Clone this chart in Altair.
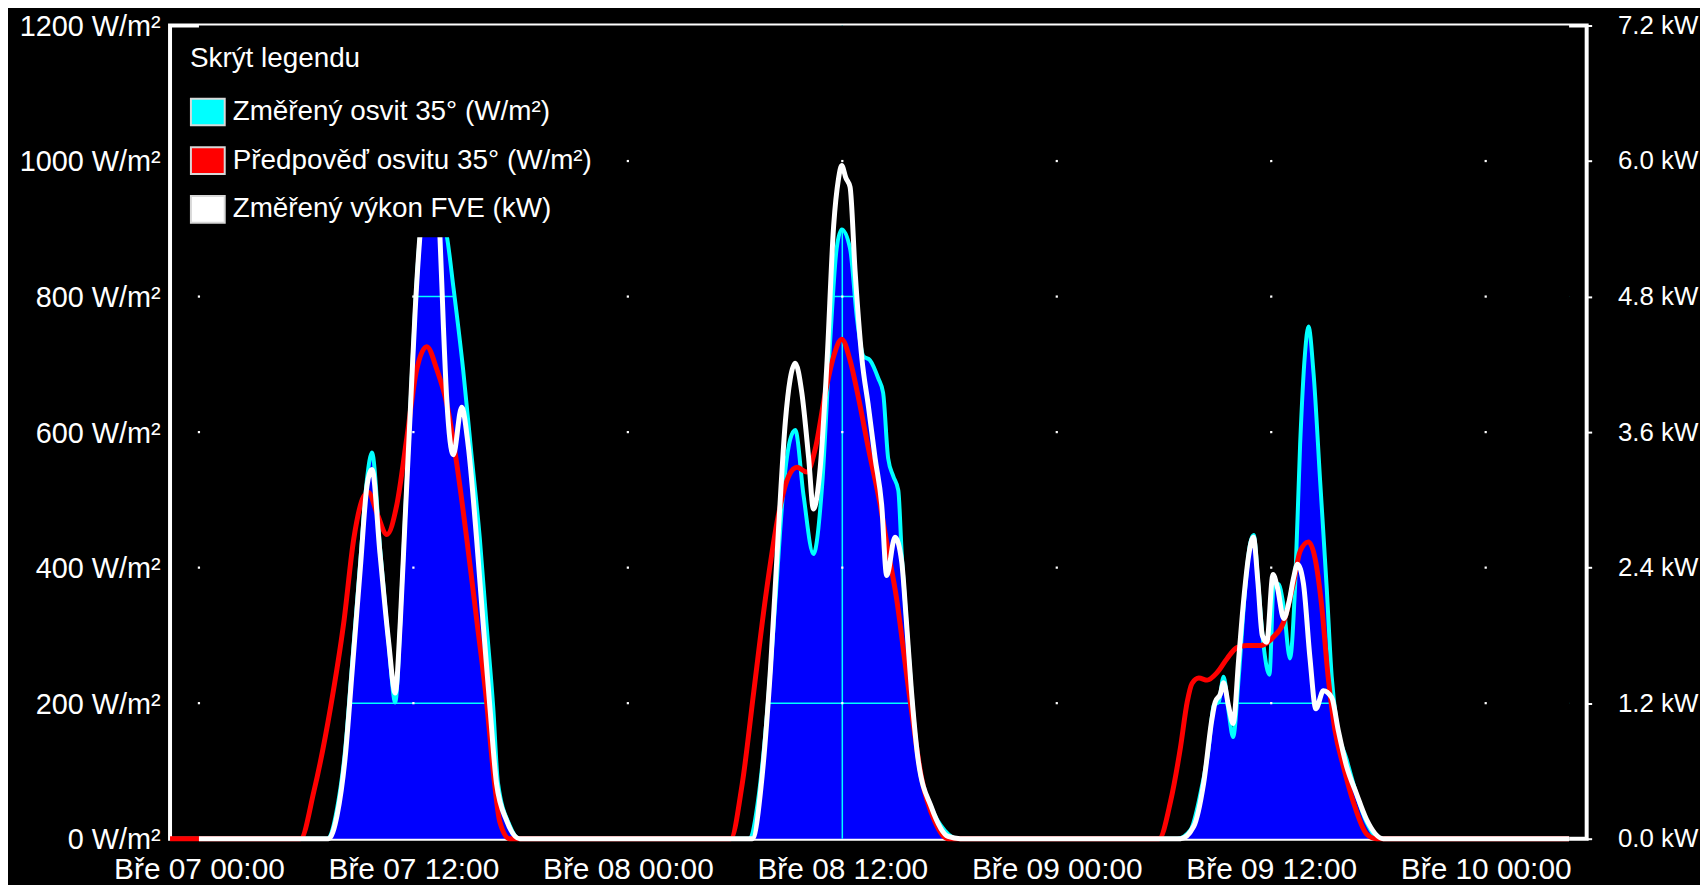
import altair as alt
import pandas as pd

# ---------------- data (local time, March 2025) ----------------
# Změřený osvit 35° (W/m2)
meas_t = ["07 00:00", "07 07:10", "07 07:44", "07 08:11", "07 08:34", "07 09:02", "07 09:24", "07 09:41",
          "07 10:08", "07 10:37", "07 10:59", "07 11:16", "07 11:32", "07 11:49", "07 12:06", "07 12:22",
          "07 12:42", "07 13:06", "07 13:30", "07 13:52", "07 14:14", "07 14:47", "07 15:15", "07 15:43",
          "07 16:05", "07 16:28", "07 16:44", "07 17:23", "07 17:57",
          "08 06:46", "08 07:20", "08 07:47", "08 08:16", "08 08:43", "08 09:05", "08 09:22", "08 09:50",
          "08 10:23", "08 10:52", "08 11:19", "08 11:41", "08 11:58", "08 12:26", "08 12:49", "08 13:11",
          "08 13:33", "08 14:01", "08 14:17", "08 14:34", "08 14:51", "08 15:08", "08 15:19", "08 15:35",
          "08 15:52", "08 16:15", "08 16:59", "08 17:44", "08 18:29",
          "09 06:44", "09 07:29", "09 08:02", "09 08:30", "09 08:47", "09 09:04", "09 09:20", "09 09:37",
          "09 09:52", "09 10:11", "09 10:33", "09 10:49", "09 11:01", "09 11:17", "09 11:34", "09 11:54",
          "09 12:08", "09 12:24", "09 12:41", "09 13:03", "09 13:20", "09 13:37", "09 13:53", "09 14:05",
          "09 14:22", "09 14:44", "09 15:06", "09 15:23", "09 15:40", "09 16:13", "09 16:46", "09 17:20",
          "09 18:04", "10 04:40"]
meas_v = [0, 0, 45, 132, 257, 411, 530, 570,
          430, 288, 201, 319, 474, 628, 784, 890,
          950, 960, 925, 890, 815, 692, 567, 443,
          319, 194, 82, 20, 0,
          0, 66, 183, 355, 520, 589, 603, 506,
          420, 520, 733, 871, 899, 871, 768, 712,
          706, 679, 658, 561, 535, 514, 424, 321,
          218, 115, 46, 12, 0,
          0, 13, 66, 134, 197, 202, 239, 187,
          150, 239, 372, 435, 448, 372, 286, 242,
          372, 376, 345, 266, 372, 582, 714, 756,
          687, 529, 372, 239, 170, 117, 66, 24,
          0, 0]

# Předpověď osvitu 35° (W/m2)
fc_t = ["06 22:23", "07 05:41", "07 06:26", "07 07:22", "07 08:06", "07 08:40", "07 09:13", "07 09:29",
        "07 09:58", "07 10:31", "07 11:04", "07 11:38", "07 12:11", "07 12:45", "07 13:19", "07 13:52",
        "07 14:25", "07 14:59", "07 15:32", "07 16:05", "07 16:28", "07 16:50", "07 17:23",
        "08 05:45", "08 06:24", "08 07:03", "08 07:42", "08 08:26", "08 09:00", "08 09:28", "08 10:01",
        "08 10:29", "08 11:03", "08 11:31", "08 11:58", "08 12:26", "08 12:54", "08 13:28", "08 14:07",
        "08 14:34", "08 15:02", "08 15:30", "08 15:58", "08 16:26", "08 17:11", "08 17:55",
        "09 05:43", "09 06:22", "09 06:55", "09 07:18", "09 07:34", "09 07:57", "09 08:25", "09 08:58",
        "09 09:32", "09 10:05", "09 10:38", "09 11:23", "09 12:08", "09 12:41", "09 13:14", "09 13:37",
        "09 14:05", "09 14:27", "09 14:49", "09 15:11", "09 15:34", "09 16:02", "09 16:35", "09 17:20",
        "09 17:53", "10 04:40"]
fc_v = [0, 0, 70, 194, 318, 443, 505, 511,
        480, 449, 492, 592, 692, 726, 692, 642,
        555, 443, 325, 205, 100, 25, 0,
        0, 81, 218, 355, 479, 535, 548, 541,
        575, 658, 712, 737, 706, 651, 575, 493,
        424, 355, 262, 170, 90, 25, 0,
        0, 55, 134, 202, 229, 237, 234, 245,
        266, 282, 285, 285, 298, 319, 376, 424,
        438, 414, 345, 239, 160, 107, 55, 7,
        0, 0]

# Změřený výkon FVE (kW)
pw_t = ["07 00:00", "07 07:15", "07 07:44", "07 08:11", "07 08:34", "07 09:02", "07 09:24", "07 09:41",
        "07 10:08", "07 10:37", "07 10:59", "07 11:16", "07 11:32", "07 11:49", "07 12:06", "07 12:22",
        "07 12:42", "07 13:00", "07 13:18", "07 13:29", "07 13:41", "07 13:52", "07 14:14", "07 14:42",
        "07 15:04", "07 15:32", "07 15:54", "07 16:17", "07 16:39", "07 17:13", "07 17:57",
        "08 06:58", "08 07:31", "08 07:59", "08 08:26", "08 08:49", "08 09:05", "08 09:22", "08 09:44",
        "08 10:07", "08 10:23", "08 10:46", "08 11:08", "08 11:31", "08 11:47", "08 11:58", "08 12:12",
        "08 12:26", "08 12:43", "08 13:05", "08 13:28", "08 13:50", "08 14:12", "08 14:29", "08 14:57",
        "08 15:19", "08 15:35", "08 15:52", "08 16:15", "08 16:59", "08 17:55", "08 18:36",
        "09 06:56", "09 07:40", "09 08:13", "09 08:41", "09 08:52", "09 09:09", "09 09:20", "09 09:37",
        "09 09:52", "09 10:11", "09 10:27", "09 10:45", "09 11:00", "09 11:15", "09 11:30", "09 11:45",
        "09 12:06", "09 12:21", "09 12:42", "09 13:00", "09 13:15", "09 13:28", "09 13:48", "09 14:10",
        "09 14:30", "09 14:55", "09 15:23", "09 15:45", "09 16:13", "09 16:46", "09 17:20", "09 18:16",
        "10 04:40"]
pw_v = [0, 0, 0.21, 0.72, 1.47, 2.40, 3.12, 3.27,
        2.52, 1.74, 1.29, 1.92, 2.82, 3.75, 4.68, 5.34,
        5.88, 6.00, 5.76, 5.34, 4.52, 3.89, 3.40, 3.82,
        3.48, 2.66, 1.91, 1.16, 0.49, 0.16, 0,
        0, 0.56, 1.51, 2.75, 3.70, 4.07, 4.21, 3.95,
        3.37, 2.92, 3.29, 4.19, 5.43, 5.84, 5.96, 5.85,
        5.77, 5.02, 4.27, 3.82, 3.37, 2.96, 2.33, 2.67,
        2.46, 1.93, 1.31, 0.69, 0.28, 0.02, 0,
        0, 0.11, 0.49, 1.06, 1.21, 1.28, 1.38, 1.17,
        1.02, 1.60, 2.10, 2.52, 2.67, 2.28, 1.80, 1.74,
        2.34, 2.22, 1.95, 2.10, 2.31, 2.43, 2.26, 1.60,
        1.15, 1.31, 1.25, 0.96, 0.64, 0.40, 0.17, 0,
        0]

series_names = ["Změřený osvit 35° (W/m²)", "Předpověď osvitu 35° (W/m²)", "Změřený výkon FVE (kW)"]
series_colors = ["#00ffff", "#ff0000", "#ffffff"]

x_domain = ["06 22:23", "10 05:39"]
x_ticks = ["07 00:00", "07 12:00", "08 00:00", "08 12:00", "09 00:00", "09 12:00", "10 00:00"]
y_ticks_irr = [0, 200, 400, 600, 800, 1000, 1200]
y_ticks_kw = [0.0, 1.2, 2.4, 3.6, 4.8, 6.0, 7.2]
dot_levels = [200, 400, 600, 800, 1000]
cyan_grid_y = [200, 800]
cyan_grid_x = ["08 12:00"]


def iso(s):
    return f"2025-03-{s[:2]}T{s[3:5]}:{s[6:8]}:00"


def dt(s):
    return alt.DateTime(year=2025, month=3, date=int(s[:2]), hours=int(s[3:5]), minutes=int(s[6:8]))


meas = pd.DataFrame({"t": [iso(s) for s in meas_t], "v": meas_v})
fc = pd.DataFrame({"t": [iso(s) for s in fc_t], "v": fc_v})
pw = pd.DataFrame({"t": [iso(s) for s in pw_t], "v": pw_v})
grid_h_df = pd.DataFrame({"y": cyan_grid_y, "t0": iso(meas_t[0]), "t1": iso(meas_t[-1])})
grid_v_df = pd.DataFrame({"t": [iso(s) for s in cyan_grid_x]})
dots_df = pd.DataFrame([{"t": iso(s), "y": y} for s in x_ticks for y in dot_levels])
legend_df = pd.DataFrame({"s": series_names})

FONT = "Liberation Sans"
x_scale = alt.Scale(domain=[dt(x_domain[0]), dt(x_domain[1])], nice=False)


def irr_scale():
    return alt.Scale(domain=[0, 1200], nice=False, zero=True)


def x_axis():
    return alt.Axis(values=[dt(s) for s in x_ticks],
                    labelExpr="'Bře ' + timeFormat(datum.value, '%d %H:%M')",
                    title=None, ticks=False, domain=False, grid=False, orient="bottom",
                    labelFlush=False, labelOverlap=False, labelPadding=16,
                    labelColor="white", labelFontSize=30, labelFont=FONT)


y_axis_left = alt.Axis(values=y_ticks_irr, labelExpr="datum.value + ' W/m²'",
                       title=None, orient="left", ticks=False, domain=False, grid=False,
                       labelFlush=False, labelOverlap=False, labelPadding=10, labelOffset=1,
                       labelColor="white", labelFontSize=29, labelFont=FONT)
y_axis_right = alt.Axis(values=y_ticks_kw, labelExpr="format(datum.value, '.1f') + ' kW'",
                        title=None, orient="right", ticks=True, tickSize=5, tickWidth=2,
                        tickColor="white", domain=False, grid=False,
                        labelFlush=False, labelOverlap=False, labelPadding=26,
                        labelColor="white", labelFontSize=26, labelFont=FONT)


def X(field="t"):
    return alt.X(f"{field}:T", scale=x_scale, axis=x_axis())


area = alt.Chart(meas).mark_area(color="#0000ff", interpolate="monotone").encode(
    x=X(), y=alt.Y("v:Q", scale=irr_scale(), axis=y_axis_left))

grid_h = alt.Chart(grid_h_df).mark_rule(color="#00ffff", strokeWidth=1.5).encode(
    x=X("t0"), x2="t1:T",
    y=alt.Y("y:Q", scale=irr_scale(), axis=None))

grid_v = alt.Chart(grid_v_df).mark_rule(color="#00ffff", strokeWidth=1.5).encode(x=X())

mask = alt.Chart(meas).mark_area(color="black", interpolate="monotone").encode(
    x=X(), y=alt.Y("v:Q", scale=irr_scale(), axis=None), y2=alt.datum(1200))

dots = alt.Chart(dots_df).mark_square(size=5, color="white", opacity=1).encode(
    x=X(), y=alt.Y("y:Q", scale=irr_scale(), axis=None))

cyan_line = alt.Chart(meas).mark_line(color="#00ffff", strokeWidth=4, interpolate="monotone").encode(
    x=X(), y=alt.Y("v:Q", scale=irr_scale(), axis=None))

red_line = alt.Chart(fc).mark_line(color="#ff0000", strokeWidth=5, interpolate="monotone").encode(
    x=X(), y=alt.Y("v:Q", scale=irr_scale(), axis=None))

white_line = alt.Chart(pw).mark_line(color="#ffffff", strokeWidth=5, interpolate="monotone").encode(
    x=X(), y=alt.Y("v:Q", scale=alt.Scale(domain=[0, 7.2], nice=False, zero=True), axis=y_axis_right))

legend_layer = alt.Chart(legend_df).mark_point(filled=True).encode(
    fill=alt.Fill("s:N", scale=alt.Scale(domain=series_names, range=series_colors),
                  legend=alt.Legend(title="Skrýt legendu", orient="top-left", offset=10, padding=10,
                                    fillColor="black", zindex=1,
                                    titleColor="white", titleFontSize=28, titleFontWeight="normal",
                                    titleFont=FONT, titlePadding=21, titleLimit=800,
                                    labelColor="white", labelFontSize=28, labelFont=FONT,
                                    labelLimit=800, labelOffset=7, rowPadding=13,
                                    symbolType="M-1,-0.79H1V0.79H-1Z", symbolSize=1156,
                                    symbolStrokeColor="#d8d8d8", symbolStrokeWidth=2,
                                    symbolOpacity=1))
).transform_filter("false")

chart = alt.layer(
    area, grid_h, grid_v, mask, dots, cyan_line, red_line, white_line, legend_layer
).resolve_scale(y="independent").properties(
    width=1425, height=818,
    padding={"left": 11, "top": 2, "right": 2, "bottom": 2},
    background="black",
).configure_view(stroke="white", strokeWidth=4)

chart.save("out.html", embed_options={"renderer": "svg", "actions": False})
